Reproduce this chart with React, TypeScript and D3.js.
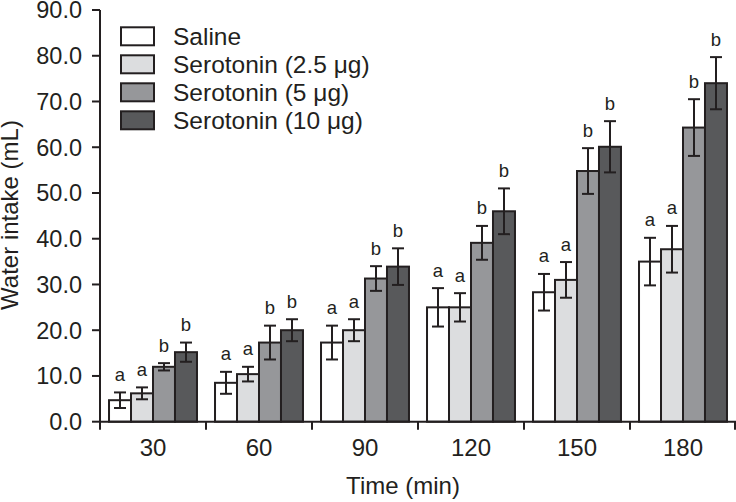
import React from "react";
import * as d3 from "d3";

const categories = ["30", "60", "90", "120", "150", "180"];
const seriesNames = ["Saline", "Serotonin (2.5 μg)", "Serotonin (5 μg)", "Serotonin (10 μg)"];
const salineMean = [4.7, 8.5, 17.3, 25.0, 28.3, 35.0];
const salineErr = [1.7, 2.4, 3.7, 4.2, 4.0, 5.2];
const sero25Mean = [6.2, 10.4, 20.0, 25.0, 31.0, 37.7];
const sero25Err = [1.3, 1.6, 2.4, 3.1, 3.9, 5.1];
const sero5Mean = [12.0, 17.3, 31.3, 39.1, 54.8, 64.3];
const sero5Err = [0.8, 3.7, 2.7, 3.7, 5.0, 6.2];
const sero10Mean = [15.2, 20.0, 33.9, 46.0, 60.1, 74.0];
const sero10Err = [2.1, 2.4, 4.0, 5.0, 5.6, 5.7];
const seriesLetters = ["a", "a", "b", "b"];
const yTicks = [0, 10, 20, 30, 40, 50, 60, 70, 80, 90];

const means = [salineMean, sero25Mean, sero5Mean, sero10Mean];
const errs = [salineErr, sero25Err, sero5Err, sero10Err];
const fills = ["#ffffff", "#dcdddf", "#96979a", "#58595b"];
const STROKE = "#231f20";
const FONT = "'Liberation Sans', Arial, Helvetica, sans-serif";

export default function App() {
  const W = 736;
  const H = 502;
  const left = 100;
  const right = 736;
  const y0 = 421.7;
  const yTop = 10;

  const x = d3.scaleBand<string>().domain(categories).range([left, right]).padding(0);
  const xi = d3
    .scaleBand<string>()
    .domain(seriesNames)
    .range([0, x.bandwidth()])
    .paddingInner(0)
    .paddingOuter(0.41);
  const y = d3.scaleLinear().domain([0, 90]).range([y0, yTop]);

  const capW = 12;

  return (
    <svg
      width={W}
      height={H}
      style={{ position: "absolute", left: 0, top: 0, background: "#fff" }}
      fontFamily={FONT}
    >
      {/* bars */}
      {categories.map((c, ci) => (
        <g key={c}>
          {seriesNames.map((s, si) => {
            const bx = (x(c) as number) + (xi(s) as number);
            const bw = xi.bandwidth();
            const m = means[si][ci];
            const e = errs[si][ci];
            const cx = bx + bw / 2;
            return (
              <g key={s}>
                <rect
                  x={bx}
                  y={y(m)}
                  width={bw}
                  height={y0 - y(m)}
                  fill={fills[si]}
                  stroke={STROKE}
                  strokeWidth={2}
                />
                <line x1={cx} x2={cx} y1={y(m + e)} y2={y(m - e)} stroke={STROKE} strokeWidth={2} />
                <line x1={cx - capW / 2} x2={cx + capW / 2} y1={y(m + e)} y2={y(m + e)} stroke={STROKE} strokeWidth={2} />
                <line x1={cx - capW / 2} x2={cx + capW / 2} y1={y(m - e)} y2={y(m - e)} stroke={STROKE} strokeWidth={2} />
                <text x={cx} y={y(m + e) - 11.5} textAnchor="middle" fontSize={18.5} fill={STROKE}>
                  {seriesLetters[si]}
                </text>
              </g>
            );
          })}
        </g>
      ))}

      {/* y axis */}
      <line x1={left} x2={left} y1={y(90)} y2={y0} stroke={STROKE} strokeWidth={2} />
      {yTicks.map((t) => (
        <g key={t}>
          <line x1={left - 8} x2={left} y1={y(t)} y2={y(t)} stroke={STROKE} strokeWidth={2} />
          <text x={82} y={y(t)} dy="0.36em" textAnchor="end" fontSize={23.5} fill={STROKE}>
            {t.toFixed(1)}
          </text>
        </g>
      ))}

      {/* x axis */}
      <line x1={left - 1} x2={right} y1={y0} y2={y0} stroke={STROKE} strokeWidth={2} />
      {categories.map((c) => (
        <line
          key={"t" + c}
          x1={x(c) as number}
          x2={x(c) as number}
          y1={y0}
          y2={y0 + 8}
          stroke={STROKE}
          strokeWidth={2}
        />
      ))}
      <line x1={right - 1} x2={right - 1} y1={y0} y2={y0 + 8} stroke={STROKE} strokeWidth={2} />
      {categories.map((c) => (
        <text
          key={"l" + c}
          x={(x(c) as number) + x.bandwidth() / 2}
          y={456}
          textAnchor="middle"
          fontSize={24}
          fill={STROKE}
        >
          {c}
        </text>
      ))}

      {/* axis titles */}
      <text x={403} y={494} textAnchor="middle" fontSize={24} fill={STROKE}>
        Time (min)
      </text>
      <text
        transform={`translate(18, 215) rotate(-90)`}
        textAnchor="middle"
        fontSize={24}
        fill={STROKE}
      >
        Water intake (mL)
      </text>

      {/* legend */}
      {seriesNames.map((s, si) => {
        const ly = 27.3 + si * 28;
        return (
          <g key={"lg" + s}>
            <rect x={121} y={ly} width={33} height={18} fill={fills[si]} stroke={STROKE} strokeWidth={2} />
            <text x={173} y={ly + 18} fontSize={24.5} fill={STROKE}>
              {s}
            </text>
          </g>
        );
      })}
    </svg>
  );
}
